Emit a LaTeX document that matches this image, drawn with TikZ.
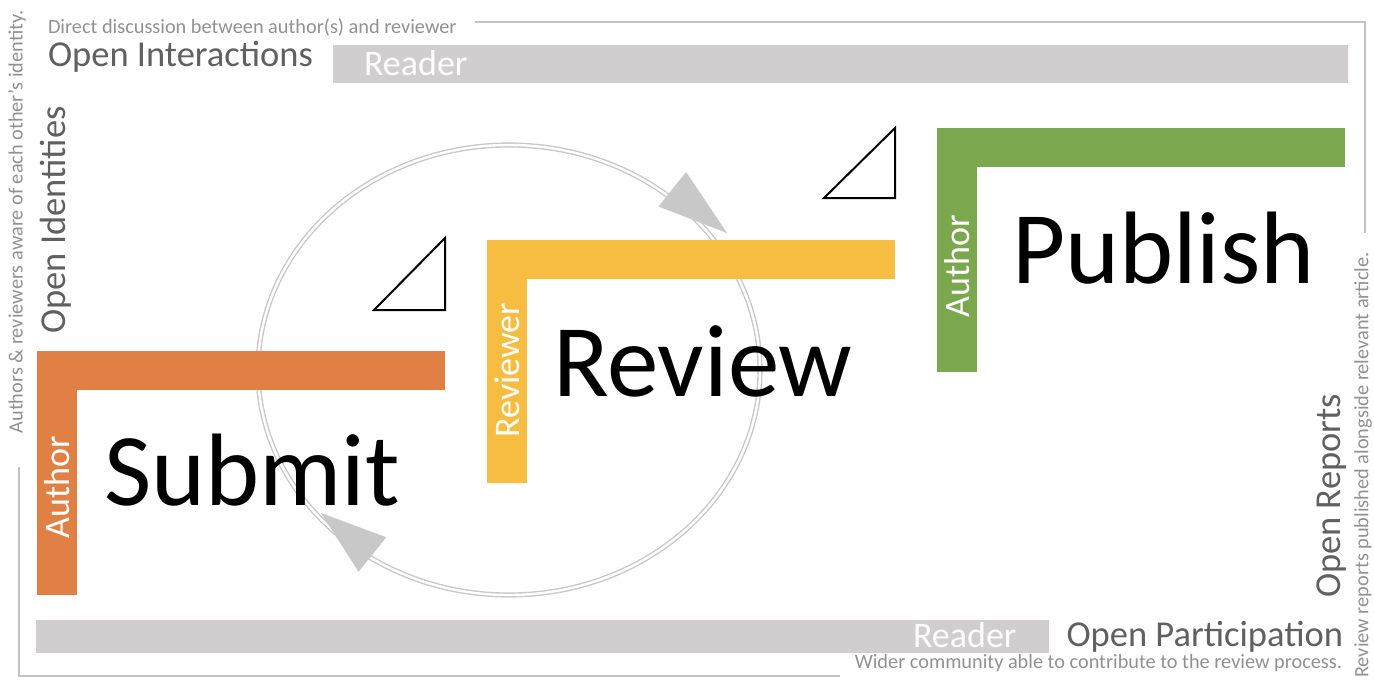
\documentclass[tikz,border=0pt]{standalone}
\usepackage{fontspec}
\setmainfont{Carlito}
\usetikzlibrary{arrows.meta}
\definecolor{headgray}{RGB}{96,96,96}
\definecolor{notegray}{RGB}{145,145,145}
\definecolor{linegray}{RGB}{195,195,195}
\definecolor{bargray}{RGB}{208,206,206}
\definecolor{circlegray}{RGB}{200,200,200}
\definecolor{arrowgray}{RGB}{200,200,200}
\definecolor{submitc}{RGB}{224,128,69}
\definecolor{reviewc}{RGB}{246,189,65}
\definecolor{publishc}{RGB}{123,167,79}

\begin{document}
\begin{tikzpicture}[x=1pt, y=-1pt,
    every node/.style={inner sep=0pt, outer sep=0pt},
    smalltext/.style={font=\fontsize{20.3}{22}\selectfont, text=notegray},
    headtext/.style={font=\fontsize{36.5}{40}\selectfont, text=headgray},
    bartext/.style={font=\fontsize{36}{40}\selectfont, text=white},
    bigword/.style={font=\fontsize{103}{110}\selectfont, text=black},
    rolebar/.style={line width=39.5pt, line join=miter},
    frameline/.style={draw=linegray, line width=1.2pt},
    corner/.style={draw=black, fill=white, line width=2pt, line join=miter},
    cyclearrow/.style={draw=arrowgray, line width=0.1pt,
        -{Triangle[length=#1, width=44pt, fill=arrowgray]}}]
\useasboundingbox (0,0) rectangle (1374,682);
% Draw outline brackets
\draw[frameline] (475,22) -| (1365,233);
\draw[frameline] (19,467) |- (840,676);
% Draw reader bars
\fill[bargray] (333,45) rectangle (1348,83);
\fill[bargray] (36,620) rectangle (1049,653);
% Draw review cycle
\draw[circlegray, line width=1.4pt, double=white, double distance=2.4pt]
    (509,370) ellipse [x radius=251, y radius=225];
\draw[cyclearrow=70pt] (672,189) -- (727,233);
\draw[cyclearrow=66pt] (373,555) -- (321,513);
% Draw role bars
\draw[rolebar, submitc] (445,370.5) -| (57,595);
\draw[rolebar, reviewc] (895,259.5) -| (507,483);
\draw[rolebar, publishc] (1345,147.5) -| (957,372);
% Draw corner triangles
\draw[corner] (374,310) -- (445,310) -- (445,238) -- cycle;
\draw[corner] (824,198) -- (895,198) -- (895,128) -- cycle;
% Draw role labels
\node[bartext, rotate=90] (submitrole) at (57,487) {Author};
\node[bartext, rotate=90] (reviewrole) at (507,370) {Reviewer};
\node[bartext, rotate=90] (publishrole) at (957,266) {Author};
\node[bartext, anchor=base west] (topreader) at (364,76) {Reader};
\node[bartext, anchor=base west] (botreader) at (913,647) {Reader};
% Draw steps
\node[bigword, anchor=base west] (submit) at (104,505) {Submit};
\node[bigword, anchor=base west] (review) at (553,396) {Review};
\node[bigword, anchor=base west] (publish) at (1012,283) {Publish};
% Draw open labels
\node[smalltext, anchor=base west] (interactnote) at (48,34) {Direct discussion between author(s) and reviewer};
\node[headtext, anchor=base west] (interact) at (48,67) {Open Interactions};
\node[headtext, anchor=base east] (particip) at (1343,646) {Open Participation};
\node[smalltext, anchor=base east] (participnote) at (1342,668) {Wider community able to contribute to the review process.};
\node[smalltext, rotate=90] (identnote) at (17,222) {Authors \& reviewers aware of each other’s identity.};
\node[headtext, rotate=90] (ident) at (56,220) {Open Identities};
\node[headtext, rotate=90] (reports) at (1332,496) {Open Reports};
\node[smalltext, rotate=90] (reportsnote) at (1363,465) {Review reports published alongside relevant article.};
\end{tikzpicture}
\end{document}
